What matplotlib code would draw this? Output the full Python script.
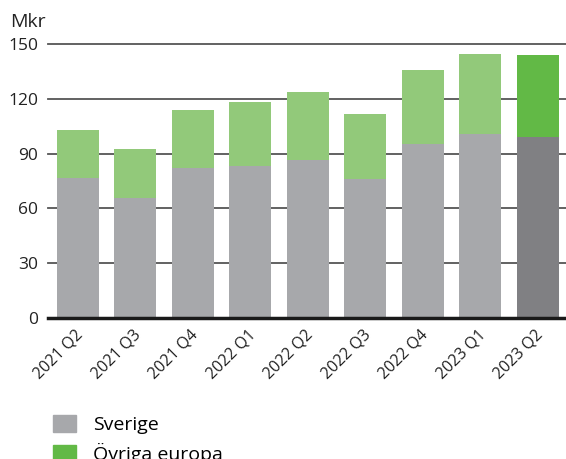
import matplotlib
matplotlib.use("Agg")
import matplotlib.pyplot as plt
from matplotlib.patches import Patch
import matplotlib.transforms as mtransforms

categories = ["2021 Q2", "2021 Q3", "2021 Q4", "2022 Q1", "2022 Q2",
              "2022 Q3", "2022 Q4", "2023 Q1", "2023 Q2"]
sverige = [76.7, 65.7, 82.3, 83.4, 86.6, 76.1, 95.3, 100.8, 99.2]
ovriga = [26.3, 26.9, 31.7, 35.0, 37.3, 35.7, 40.6, 43.9, 44.9]
yticks = [0, 30, 60, 90, 120, 150]

plt.rcParams['font.family'] = ['Open Sans', 'DejaVu Sans']

fig = plt.figure(figsize=(5.66, 4.59), dpi=100)
ax = fig.add_axes([48/566, 1-317.8/459, 1-48/566, (317.8-44.3)/459])

x = list(range(len(categories)))
gray_colors = ['#a7a8ab'] * (len(x) - 1) + ['#808083']
green_colors = ['#92c97a'] * (len(x) - 1) + ['#62b946']
ax.bar(x, sverige, width=0.73, color=gray_colors, zorder=3)
ax.bar(x, ovriga, bottom=sverige, width=0.73, color=green_colors, zorder=3)

ax.set_xlim(-0.52, 8.49)
ax.set_ylim(0, 150)
ax.set_yticks(yticks)
for t in yticks[1:]:
    ax.axhline(t, color='#555555', linewidth=1.3, zorder=1, clip_on=False)
ax.axhline(0, color='#1a1a1a', linewidth=2.5, zorder=4, clip_on=False)

for s in ax.spines.values():
    s.set_visible(False)
ax.tick_params(axis='y', length=0, labelsize=12.5, colors='#222222', pad=7)
ax.tick_params(axis='x', length=0, labelsize=11.5, colors='#222222', pad=4)
ax.set_xticks(x)
ax.set_xticklabels(categories, rotation=45, ha='right', rotation_mode='anchor')
for lbl in ax.get_xticklabels():
    lbl.set_transform(lbl.get_transform() + mtransforms.ScaledTranslation(-3/100, -3/100, fig.dpi_scale_trans))

fig.text(10/566, 1-22/459, "Mkr", fontsize=14, color='#222222', va='center', ha='left')

handles = [Patch(color='#a7a8ab', label='Sverige'), Patch(color='#62b946', label='Övriga europa')]
fig.legend(handles=handles, loc='upper left', bbox_to_anchor=(45/566, 1-407/459),
           frameon=False, fontsize=14, handlelength=1.2, handleheight=0.95,
           handletextpad=0.85, labelspacing=0.45, borderaxespad=0)

fig.savefig("out.png", dpi=100)
